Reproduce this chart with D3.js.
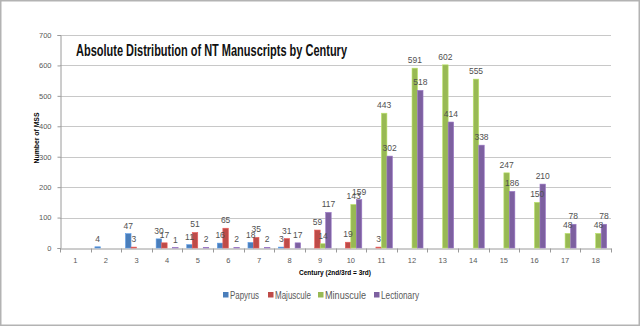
<!DOCTYPE html>
<meta charset="utf-8">
<style>
body { margin: 0; background: #fff; }
svg text { font-family: "Liberation Sans", Arial, sans-serif; }
.tick text { fill: #595959; font-size: 7.5px; }
.lbl { fill: #505050; font-size: 8.5px; }
</style>
<body>
<script src="https://cdn.jsdelivr.net/npm/d3@7"></script>
<script>
// chart data
var centuries = ["1","2","3","4","5","6","7","8","9","10","11","12","13","14","15","16","17","18"];
var seriesNames = ["Papyrus", "Majuscule", "Minuscule", "Lectionary"];
var papyrus    = [0, 4, 47, 30, 11, 16, 18, 3, 0, 0, 0, 0, 0, 0, 0, 0, 0, 0];
var majuscule  = [0, 0, 3, 17, 51, 65, 35, 31, 59, 19, 3, 0, 0, 0, 0, 0, 0, 0];
var minuscule  = [0, 0, 0, 0, 0, 0, 0, 0, 14, 143, 443, 591, 602, 555, 247, 150, 48, 48];
var lectionary = [0, 0, 0, 1, 2, 2, 2, 17, 117, 159, 302, 518, 414, 338, 186, 210, 78, 78];
var yTicks = [0, 100, 200, 300, 400, 500, 600, 700];
var colors = ["#4a7ebb", "#be4b48", "#98b954", "#7d60a0"];

var allSeries = [papyrus, majuscule, minuscule, lectionary];

var width = 640, height = 326;
var margin = {top: 35, right: 29, bottom: 78, left: 60};

var svg = d3.select("body").append("svg")
    .attr("width", width)
    .attr("height", height);

// outer frame
svg.append("rect")
    .attr("x", 0.75).attr("y", 0.75)
    .attr("width", width - 1.5).attr("height", height - 1.5)
    .attr("fill", "#fff").attr("stroke", "#b3b3b3").attr("stroke-width", 1.5);

var x0 = d3.scaleBand().domain(centuries)
    .range([margin.left, width - margin.right]);
var groupW = 22;
var x1 = d3.scaleBand().domain(d3.range(4)).range([0, groupW]);
var y = d3.scaleLinear().domain([0, 700])
    .range([height - margin.bottom, margin.top]);

// gridlines
svg.append("g").selectAll("line")
    .data(yTicks.slice(1))
    .enter().append("line")
    .attr("x1", margin.left).attr("x2", width - margin.right)
    .attr("y1", function(d) { return Math.round(y(d)) + 0.5; })
    .attr("y2", function(d) { return Math.round(y(d)) + 0.5; })
    .attr("stroke", "#c8c8c8");

// y axis
var yAxis = svg.append("g")
    .attr("transform", "translate(" + (margin.left + 0.5) + ",0)")
    .call(d3.axisLeft(y).tickValues(yTicks).tickSize(3).tickPadding(6));
yAxis.select(".domain").attr("stroke", "#9a9a9a");
yAxis.selectAll(".tick line").attr("stroke", "#9a9a9a");

// x axis
var xAxis = svg.append("g")
    .attr("transform", "translate(0," + (Math.round(y(0)) + 0.5) + ")")
    .call(d3.axisBottom(x0).tickSize(0).tickPadding(9));
xAxis.select(".domain").attr("stroke", "#9a9a9a");
// tick marks between categories
xAxis.selectAll(".sep")
    .data(d3.range(centuries.length + 1))
    .enter().append("line")
    .attr("class", "sep")
    .attr("x1", function(i) { return Math.round(margin.left + i * x0.step()) + 0.5; })
    .attr("x2", function(i) { return Math.round(margin.left + i * x0.step()) + 0.5; })
    .attr("y1", 0).attr("y2", 4)
    .attr("stroke", "#9a9a9a");

// bars
var groups = svg.append("g").selectAll("g")
    .data(centuries)
    .enter().append("g")
    .attr("transform", function(d) {
        return "translate(" + (x0(d) + (x0.bandwidth() - groupW) / 2) + ",0)";
    });

function cells(d, i) {
    return allSeries.map(function(s, k) { return {k: k, v: s[i]}; })
        .filter(function(e) { return e.v > 0; });
}

groups.selectAll("rect")
    .data(cells)
    .enter().append("rect")
    .attr("x", function(d) { return x1(d.k); })
    .attr("width", x1.bandwidth())
    .attr("y", function(d) { return y(d.v); })
    .attr("height", function(d) { return y(0) - y(d.v); })
    .attr("fill", function(d) { return colors[d.k]; })
    .attr("stroke", function(d) { return d3.color(colors[d.k]).brighter(0.6); })
    .attr("stroke-width", 0.6);

// value labels
groups.selectAll("text")
    .data(cells)
    .enter().append("text")
    .attr("class", "lbl")
    .attr("x", function(d) { return x1(d.k) + x1.bandwidth() / 2; })
    .attr("y", function(d) { return y(d.v) - 5; })
    .attr("text-anchor", "middle")
    .text(function(d) { return d.v; });

// title
svg.append("text")
    .attr("x", 76).attr("y", 56)
    .attr("font-size", 16).attr("font-weight", "bold")
    .attr("fill", "#111")
    .attr("textLength", 271).attr("lengthAdjust", "spacingAndGlyphs")
    .text("Absolute Distribution of NT Manuscripts by Century");

// axis titles
svg.append("text")
    .attr("transform", "translate(39,138) rotate(-90)")
    .attr("text-anchor", "middle")
    .attr("font-size", 8).attr("font-weight", "bold")
    .attr("textLength", 51).attr("lengthAdjust", "spacingAndGlyphs")
    .text("Number of MSS");
svg.append("text")
    .attr("x", 299).attr("y", 275)
    .attr("font-size", 8).attr("font-weight", "bold")
    .attr("textLength", 72).attr("lengthAdjust", "spacingAndGlyphs")
    .text("Century (2nd/3rd = 3rd)");

// legend
var legendX = [223, 268, 318, 374];
var legendW = [29, 36, 41, 38];
var legend = svg.append("g").selectAll("g")
    .data(seriesNames)
    .enter().append("g")
    .attr("transform", function(d, i) { return "translate(" + legendX[i] + ",292)"; });
legend.append("rect")
    .attr("width", 5.5).attr("height", 5.5)
    .attr("fill", function(d, i) { return colors[i]; });
legend.append("text")
    .attr("x", 7).attr("y", 6.5)
    .attr("font-size", 10).attr("fill", "#595959")
    .attr("textLength", function(d, i) { return legendW[i]; })
    .attr("lengthAdjust", "spacingAndGlyphs")
    .text(function(d) { return d; });
</script>
</body>
